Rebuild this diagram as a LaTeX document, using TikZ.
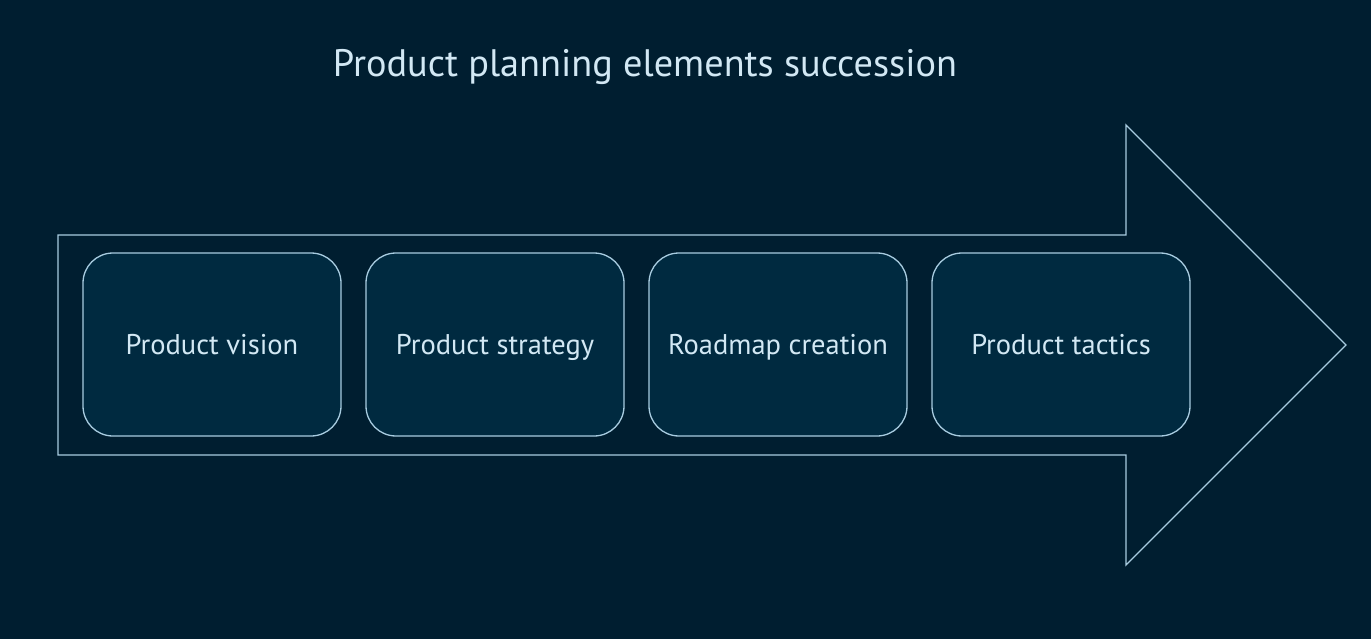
\documentclass[tikz,border=0pt]{standalone}
\usepackage{fontspec}
\setmainfont{PT Sans}
\definecolor{bg}{HTML}{001E30}
\definecolor{boxfill}{HTML}{002A40}
\definecolor{edge}{HTML}{A8CCE0}
\definecolor{txt}{HTML}{D2E8F4}
\begin{document}
\begin{tikzpicture}[x=1pt,y=-1pt,
  stagebox/.style={draw=edge, fill=boxfill, line width=1.3pt, rounded corners=30pt,
    minimum width=258pt, minimum height=183pt, inner sep=0pt,
    text=txt, font=\fontsize{28.5}{32}\selectfont, text height=26pt, text depth=6pt},
  arrowline/.style={draw=edge, line width=1.3pt, line join=miter}]
\fill[bg] (0,0) rectangle (1371,639);
\useasboundingbox (0,0) rectangle (1371,639);
\node[text=txt, font=\fontsize{38.3}{44}\selectfont, text height=27pt, text depth=8pt] (title) at (645,67) {Product planning elements succession};
\draw[arrowline] (58,235) -- (1126,235) -- (1126,125) -- (1346,345) -- (1126,565) -- (1126,455) -- (58,455) -- cycle;
\node[stagebox] (s1) at (212,344.5) {Product vision};
\node[stagebox] (s2) at (495,344.5) {Product strategy};
\node[stagebox] (s3) at (778,344.5) {Roadmap creation};
\node[stagebox] (s4) at (1061,344.5) {Product tactics};
\end{tikzpicture}
\end{document}
